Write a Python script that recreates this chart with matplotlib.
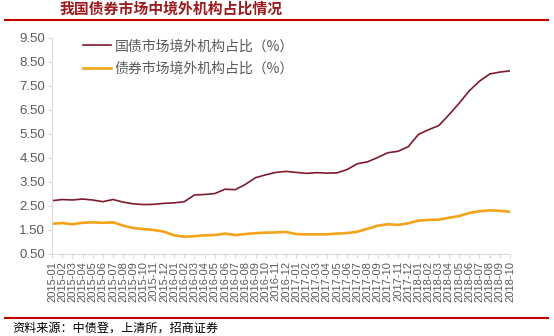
import matplotlib
matplotlib.use("Agg")
import matplotlib.pyplot as plt
from matplotlib.lines import Line2D

plt.rcParams['font.family'] = ['Noto Sans CJK SC', 'DejaVu Sans']

months = [f"{y}-{m:02d}" for y in range(2015, 2019) for m in range(1, 13)][:46]

gov_share = [2.72, 2.77, 2.75, 2.79, 2.75, 2.68, 2.77, 2.66, 2.59, 2.56, 2.57, 2.61,
             2.63, 2.68, 2.96, 2.98, 3.02, 3.20, 3.18, 3.40, 3.68, 3.80, 3.90, 3.94,
             3.90, 3.86, 3.89, 3.87, 3.88, 4.02, 4.26, 4.34, 4.52, 4.72, 4.78, 4.97,
             5.48, 5.68, 5.85, 6.30, 6.78, 7.30, 7.70, 8.00, 8.08, 8.13]
bond_share = [1.76, 1.79, 1.74, 1.80, 1.82, 1.80, 1.82, 1.68, 1.58, 1.54, 1.50, 1.43,
              1.28, 1.22, 1.24, 1.28, 1.29, 1.35, 1.29, 1.33, 1.37, 1.39, 1.40, 1.42,
              1.33, 1.32, 1.32, 1.32, 1.35, 1.37, 1.43, 1.55, 1.68, 1.74, 1.71, 1.78,
              1.89, 1.92, 1.93, 2.01, 2.08, 2.21, 2.28, 2.32, 2.30, 2.26]
yticks = [0.5, 1.5, 2.5, 3.5, 4.5, 5.5, 6.5, 7.5, 8.5, 9.5]

title = "我国债券市场中境外机构占比情况"
labels = ["国债市场境外机构占比（%）", "债券市场境外机构占比（%）"]
source = "资料来源：中债登，上清所，招商证券"

W, H = 554, 336
fig = plt.figure(figsize=(W / 100, H / 100), dpi=100)
ax = fig.add_axes([52 / W, 1 - 254 / H, (510 - 52) / W, (254 - 38) / H])

x = list(range(len(months)))
ax.plot(x, gov_share, color="#7B1C2E", lw=1.2, label=labels[0])
ax.plot(x, bond_share, color="#F5A21B", lw=1.9, label=labels[1])

ax.set_xlim(0, len(months) - 1)
ax.set_ylim(0.5, 9.5)
ax.set_yticks(yticks)
ax.set_yticklabels([f"{v:.2f}" for v in yticks], fontsize=9.5, color="#595959",
                   family=['Liberation Sans'])
ax.set_xticks(x)
ax.set_xticklabels(months, rotation=90, fontsize=8, color="#595959",
                   family=['Liberation Sans'])

for s in ["top", "right"]:
    ax.spines[s].set_visible(False)
for s in ["left", "bottom"]:
    ax.spines[s].set_color("#D9D9D9")
    ax.spines[s].set_linewidth(0.8)
ax.tick_params(axis="both", colors="#D9D9D9", length=3, width=0.8, pad=2)
ax.tick_params(axis="x", labelcolor="#595959")
ax.tick_params(axis="y", labelcolor="#595959")

leg = ax.legend(loc="upper left", bbox_to_anchor=(0.055, 1.02), frameon=False,
                fontsize=10, handlelength=2.0, handletextpad=0.3, labelspacing=0.6,
                borderaxespad=0)
for t in leg.get_texts():
    t.set_color("#595959")

fig.text(60 / W, 1 - 9 / H, title, fontsize=10.7, fontweight="bold",
         color="#9B1B1E", ha="left", va="center")
fig.add_artist(Line2D([5 / W, 548 / W], [1 - 20 / H, 1 - 20 / H],
                      color="#C00000", lw=1.5))
fig.add_artist(Line2D([5 / W, 548 / W], [1 - 318 / H, 1 - 318 / H],
                      color="#C00000", lw=1.5))
fig.text(12 / W, 1 - 328 / H, source, fontsize=8.7, color="#000000",
         ha="left", va="center")

fig.savefig("out.png", dpi=100)
